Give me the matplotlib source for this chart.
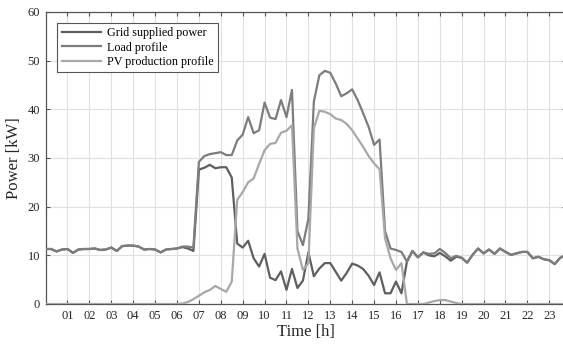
import matplotlib
matplotlib.use("Agg")
import matplotlib.pyplot as plt
import numpy as np

# quarter-hour time stamps (hours)
time_h = np.arange(96) / 4.0

load_kw = [
    11.3, 11.3, 10.8, 11.2, 11.3, 10.5, 11.2, 11.3,
    11.3, 11.4, 11.1, 11.2, 11.6, 10.9, 11.9, 12.0,
    12.0, 11.8, 11.2, 11.3, 11.2, 10.6, 11.2, 11.3,
    11.4, 11.8, 11.8, 11.6, 29.2, 30.4, 30.8, 31.0,
    31.2, 30.6, 30.6, 33.6, 34.8, 38.4, 35.1, 35.7,
    41.4, 38.3, 38.0, 41.9, 38.4, 44.0, 15.0, 12.1,
    17.5, 41.6, 47.0, 47.9, 47.5, 45.3, 42.7, 43.3,
    44.1, 41.9, 39.2, 36.4, 32.7, 33.8, 15.0, 11.4,
    11.1, 10.7, 8.7, 10.9, 9.6, 10.6, 10.3, 10.4,
    11.3, 10.5, 9.4, 9.9, 9.5, 8.5, 10.1, 11.4,
    10.4, 11.2, 10.3, 11.4, 10.7, 10.1, 10.4, 10.7,
    10.7, 9.4, 9.7, 9.2, 9.0, 8.2, 9.5, 10.0,
]

pv_kw = [
    0, 0, 0, 0, 0, 0, 0, 0,
    0, 0, 0, 0, 0, 0, 0, 0,
    0, 0, 0, 0, 0, 0, 0, 0,
    0, 0.1, 0.4, 1.0, 1.7, 2.4, 2.9, 3.7,
    3.1, 2.5, 4.6, 21.4, 23.0, 25.0, 25.8, 28.8,
    31.6, 32.9, 33.1, 35.2, 35.6, 36.7, 11.4, 7.0,
    8.4, 36.1, 39.7, 39.5, 39.0, 38.1, 37.8, 37.0,
    35.7, 34.0, 32.3, 30.4, 28.9, 27.7, 13.5, 9.4,
    7.0, 8.4, 0, 0, 0, 0, 0.3, 0.6,
    0.8, 0.8, 0.5, 0.2, 0, 0, 0, 0,
    0, 0, 0, 0, 0, 0, 0, 0,
    0, 0, 0, 0, 0, 0, 0, 0,
]

grid_kw = [
    11.3, 11.3, 10.8, 11.2, 11.3, 10.5, 11.2, 11.3,
    11.3, 11.4, 11.1, 11.2, 11.6, 10.9, 11.9, 12.0,
    12.0, 11.8, 11.2, 11.3, 11.2, 10.6, 11.2, 11.3,
    11.4, 11.7, 11.4, 10.9, 27.6, 28.0, 28.6, 27.9,
    28.1, 28.1, 26.0, 12.4, 11.6, 13.0, 9.4, 7.7,
    10.3, 5.4, 4.9, 6.7, 2.9, 7.2, 3.3, 4.8,
    10.6, 5.7, 7.3, 8.4, 8.4, 6.6, 4.8, 6.4,
    8.3, 7.9, 7.2, 5.8, 3.9, 6.5, 2.2, 2.2,
    4.6, 2.2, 8.7, 10.9, 9.6, 10.6, 10.0, 9.8,
    10.5, 9.8, 8.9, 9.7, 9.5, 8.5, 10.1, 11.4,
    10.4, 11.2, 10.3, 11.4, 10.7, 10.1, 10.4, 10.7,
    10.7, 9.4, 9.7, 9.2, 9.0, 8.2, 9.5, 10.0,
]

hour_ticks = list(range(1, 24))
hour_labels = [f"{h:02d}" for h in hour_ticks]
series_labels = ["Grid supplied power", "Load profile", "PV production profile"]
series_colors = ["#5f5f5f", "#7d7d7d", "#a8a8a8"]

plt.rcParams['font.family'] = ['Liberation Serif', 'DejaVu Serif']

W, H = 563, 349
fig = plt.figure(figsize=(W / 100, H / 100), dpi=100)
ax = fig.add_axes([45.6 / W, 1 - 304 / H, (565.7 - 45.6) / W, (304 - 12) / H])

ax.plot(time_h, grid_kw, color=series_colors[0], lw=1.6, label=series_labels[0], zorder=3)
ax.plot(time_h, load_kw, color=series_colors[1], lw=1.6, label=series_labels[1], zorder=3)
ax.plot(time_h, pv_kw, color=series_colors[2], lw=1.6, label=series_labels[2], zorder=3)

ax.set_xlim(0, 23.75)
ax.set_ylim(0, 60)
ax.set_xticks(hour_ticks)
ax.set_xticklabels(hour_labels)
ax.set_yticks(range(0, 61, 10))

ax.grid(True, color="#e0e0e0", lw=0.8, zorder=0)
ax.set_axisbelow(True)
ax.tick_params(direction="in", length=3, width=0.8, top=True, right=True,
               colors="#555555", labelcolor="#262626", labelsize=9, pad=4)
for sp in ax.spines.values():
    sp.set_color("#555555")
    sp.set_linewidth(0.9)

ax.set_xlabel("Time [h]", fontsize=12, color="#262626", labelpad=2)
ax.set_ylabel("Power [kW]", fontsize=12, color="#262626", labelpad=4)

leg = ax.legend(loc="upper left", bbox_to_anchor=((57.3 - 45.6) / (565.7 - 45.6), 1 - (22.7 - 12) / 292),
                borderaxespad=0, fontsize=8.7, handlelength=3.3, labelspacing=0.22,
                fancybox=False, framealpha=1, edgecolor="#555555", borderpad=0.35,
                handletextpad=0.5)
leg.get_frame().set_linewidth(0.8)

fig.savefig("out.png", dpi=100)
